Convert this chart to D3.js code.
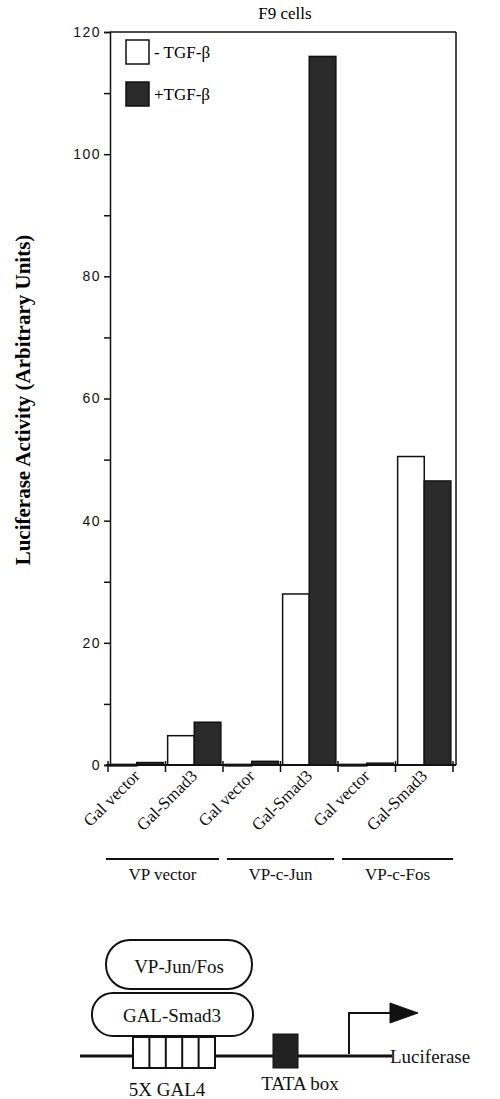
<!DOCTYPE html>
<html><head><meta charset="utf-8">
<script src="https://cdn.jsdelivr.net/npm/d3@7"></script>
<style>body{margin:0;background:#fff}</style></head>
<body><svg id="c" width="500" height="1099"></svg>
<script>
const categories=["Gal vector","Gal-Smad3","Gal vector","Gal-Smad3","Gal vector","Gal-Smad3"];
const groups=["VP vector","VP-c-Jun","VP-c-Fos"];
const minusTGF=[0.1,4.8,0.1,28,0.1,50.5];
const plusTGF=[0.4,7,0.6,116,0.3,46.5];
const yTicks=[0,20,40,60,80,100,120];
const series=["- TGF-β","+TGF-β"];
const colors=["#fff","#2a2a2a"];

(function(){
const svg=d3.select("#c");
const serif="Liberation Serif, Times New Roman, serif";
const pL=110,pR=456,pT=32,pB=765;
const y=d3.scaleLinear().domain([0,120]).range([pB,pT]);
const x=d3.scaleBand().domain(d3.range(6)).range([pL-2,pL+343]).paddingInner(0).paddingOuter(0);
const xs=d3.scaleBand().domain([0,1]).range([0,x.bandwidth()]).paddingInner(0).paddingOuter(0.08);

svg.append("line").attr("x1",pL).attr("x2",pR).attr("y1",pT).attr("y2",pT).attr("stroke","#111").attr("stroke-width",1.5);
svg.append("line").attr("x1",pR).attr("x2",pR).attr("y1",pT).attr("y2",pB).attr("stroke","#111").attr("stroke-width",1.5);

const ya=svg.append("g").attr("transform",`translate(${pL},0)`)
  .call(d3.axisLeft(y).tickValues(d3.range(0,121,10)).tickSize(6).tickFormat(d=>yTicks.includes(d)?d:""));
ya.selectAll("path,line").attr("stroke","#111").attr("stroke-width",1.5);
ya.selectAll("text").attr("font-family","Liberation Sans, Arial, sans-serif").attr("font-size",14).attr("letter-spacing",1.5).attr("fill","#111").attr("x",-9);

const data=categories.map((c,i)=>({i,vals:[minusTGF[i],plusTGF[i]]}));
const g=svg.append("g");
data.forEach(d=>{
  d.vals.forEach((v,k)=>{
    g.append("rect").attr("x",x(d.i)+xs(k)).attr("width",xs.bandwidth())
     .attr("y",y(v)).attr("height",Math.max(1.5,pB-y(v)))
     .attr("fill",colors[k]).attr("stroke","#111").attr("stroke-width",1.5);
  });
});

const xa=svg.append("g").attr("transform",`translate(0,${pB})`);
xa.append("line").attr("x1",pL-4).attr("x2",pR).attr("stroke","#111").attr("stroke-width",2);
d3.range(7).forEach(i=>{
  const xx=i<6?x(i):x(5)+x.bandwidth();
  xa.append("line").attr("x1",xx).attr("x2",xx).attr("y1",-4).attr("y2",7).attr("stroke","#111").attr("stroke-width",1.5);
});
categories.forEach((c,i)=>{
  const cx=x(i)+x.bandwidth()/2+4;
  xa.append("text").attr("transform",`translate(${cx},12) rotate(-45)`).attr("text-anchor","end")
   .attr("font-family",serif).attr("font-size",17).attr("fill","#111").text(c);
});
groups.forEach((gname,j)=>{
  const x0=x(j*2)-2+(j?6:0), x1=x(j*2+1)+x.bandwidth()-(j<2?4:0);
  svg.append("line").attr("x1",x0).attr("x2",x1).attr("y1",859).attr("y2",859).attr("stroke","#111").attr("stroke-width",1.8);
  svg.append("text").attr("x",(x0+x1)/2).attr("y",880).attr("text-anchor","middle").attr("font-family",serif).attr("font-size",17).attr("fill","#111").text(gname);
});

svg.append("text").attr("x",285).attr("y",19).attr("text-anchor","middle").attr("font-family",serif).attr("font-size",17).text("F9 cells");
svg.append("text").attr("transform","translate(30,400) rotate(-90)").attr("text-anchor","middle").attr("font-family",serif).attr("font-weight","bold").attr("font-size",21).text("Luciferase Activity (Arbitrary Units)");

series.forEach((s,k)=>{
  const ly=40+k*42;
  svg.append("rect").attr("x",126).attr("y",ly).attr("width",23).attr("height",24).attr("fill",colors[k]).attr("stroke","#111").attr("stroke-width",1.5);
  svg.append("text").attr("x",154).attr("y",ly+18).attr("font-family",serif).attr("font-size",17).text(s);
});

const dg=svg.append("g").attr("stroke","#111").attr("fill","none");
dg.append("line").attr("x1",80).attr("x2",392).attr("y1",1056).attr("y2",1056).attr("stroke-width",3);
dg.append("rect").attr("x",133).attr("y",1037).attr("width",82).attr("height",31).attr("fill","#fff").attr("stroke-width",2);
d3.range(1,5).forEach(i=>dg.append("line").attr("x1",133+i*16.4).attr("x2",133+i*16.4).attr("y1",1037).attr("y2",1068).attr("stroke-width",2));
dg.append("rect").attr("x",273).attr("y",1034).attr("width",25).attr("height",34).attr("fill","#222");
dg.append("path").attr("d","M349,1054 V1013 H392").attr("stroke-width",2);
dg.append("path").attr("d","M390,1003 L418,1013 L390,1023 Z").attr("fill","#111");
dg.append("rect").attr("x",92).attr("y",993).attr("width",161).attr("height",43).attr("rx",21).attr("fill","#fff").attr("stroke-width",2);
dg.append("rect").attr("x",106).attr("y",940).attr("width",146).attr("height",49).attr("rx",24).attr("fill","#fff").attr("stroke-width",2);
const t=(x0,y0,s,a="middle")=>svg.append("text").attr("x",x0).attr("y",y0).attr("text-anchor",a).attr("font-family",serif).attr("font-size",19).attr("fill","#111").text(s);
t(179,973,"VP-Jun/Fos");t(172,1022,"GAL-Smad3");t(390,1063,"Luciferase","start");
t(167,1096,"5X GAL4");t(300,1090,"TATA box");
})();
</script></body></html>
